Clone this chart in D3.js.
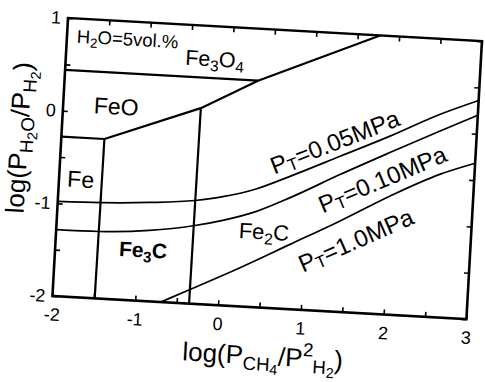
<!DOCTYPE html>
<meta charset="utf-8">
<head>
    <style>
        body { margin: 0; background: #fff; }
        text { font-family: "Liberation Sans", Arial, Helvetica, sans-serif; fill: #000; }
    </style>
    <script src="https://d3js.org/d3.v7.min.js"></script>
</head>
<div id="my_dataviz"></div>

<script>

// axis ranges and ticks (log units)
var xDomain = [-2, 3],
    yDomain = [-2, 1];
var xTicks = [-2, -1.5, -1, -0.5, 0, 0.5, 1, 1.5, 2, 2.5, 3];
var yTicks = [-2, -1.5, -1, -0.5, 0, 0.5, 1];

// phase boundaries [log(PCH4/PH2^2), log(PH2O/PH2)]
var magnetiteWustite = [[-2, 0.44], [0.33, 0.44]];
var oxideCarbide = [[-2, -0.28], [-1.48, -0.28], [-0.34, 0.11], [0.33, 0.44], [1.77, 1.0]];
var ironCementite = [[-1.48, -0.28], [-1.49, -2]];
var cementiteFe2C = [[-0.34, 0.11], [-0.35, -2]];

// equilibrium curves, H2O = 5 vol.%
var pt005 = [[-2, -0.98], [-1.48, -0.967], [-0.9, -0.936], [-0.35, -0.887], [0, -0.826], [0.38, -0.726],
             [0.78, -0.57], [1.37, -0.324], [1.95, -0.08], [2.54, 0.186], [3, 0.36]];
var pt010 = [[-2, -1.285], [-1.48, -1.278], [-0.88, -1.237], [-0.35, -1.16], [0, -1.084], [0.4, -0.967],
             [0.79, -0.802], [1.38, -0.521], [1.96, -0.257], [2.55, 0.006], [3, 0.2]];
var pt100 = [[-0.69, -2], [-0.355, -1.85], [0.233, -1.586], [0.82, -1.305], [1.407, -1.023],
             [1.993, -0.724], [2.581, -0.459], [3, -0.318]];

// region labels: [x, y] anchor (baseline-left) in data units
var phaseLabels = [
    {pos: [-1.88, 0.74], parts: [["H"], ["2", "sub"], ["O=5vol.%"]], size: 18.5},
    {pos: [-0.56, 0.567], parts: [["Fe"], ["3", "sub"], ["O"], ["4", "sub"]], size: 21.5},
    {pos: [-1.63, -0.01], parts: [["FeO"]], size: 23},
    {pos: [-1.9, -0.815], parts: [["Fe"]], size: 23},
    {pos: [-1.23, -1.53], parts: [["Fe"], ["3", "sub"], ["C"]], size: 21, bold: true},
    {pos: [0.2, -1.264], parts: [["Fe"], ["2", "sub"], ["C"]], size: 22}
];
var pressureLabels = [
    {pos: [0.59, -0.56], value: "0.05", angle: -24.5},
    {pos: [1.2, -0.95], value: "0.10", angle: -26},
    {pos: [1.0, -1.60], value: "1.0", angle: -27}
];

// set the dimensions and margins of the graph
var margin = {top: 18, left: 68},
    width = 414.6,
    height = 278.4,
    tilt = 3.2;   // the scanned figure sits slightly rotated

var x = d3.scaleLinear().domain(xDomain).range([0, width]),
    y = d3.scaleLinear().domain(yDomain).range([height, 0]);

var svg = d3.select("#my_dataviz")
  .append("svg")
    .attr("width", 485)
    .attr("height", 382)
  .append("g")
    .attr("transform", "rotate(" + tilt + "," + margin.left + "," + margin.top + ") translate(" + margin.left + "," + margin.top + ")");

svg.append("clipPath").attr("id", "plotclip")
  .append("rect").attr("width", width).attr("height", height);

function richText(g, px, py, parts, size) {
    var t = g.append("text").attr("x", px).attr("y", py).style("font-size", size + "px");
    var cur = 0;
    var scale = {n: 1, sub: 0.72, sup: 0.72, subsub: 0.55};
    var shift = {n: 0, sub: 0.22, sup: -0.42, subsub: 0.36};
    parts.forEach(function(p) {
        var s = p[1] || "n";
        var off = shift[s] * size;
        t.append("tspan")
          .attr("dy", off - cur)
          .style("font-size", (scale[s] * size) + "px")
          .text(p[0]);
        cur = off;
    });
    return t;
}

// axes, ticks pointing inward on all four sides
var fmt = function(d) { return Number.isInteger(d) ? String(d) : ""; };

svg.append("g")
    .attr("transform", "translate(0," + height + ")")
    .call(d3.axisBottom(x).tickValues(xTicks).tickSize(-5).tickPadding(12).tickFormat(fmt));
svg.append("g")
    .call(d3.axisLeft(y).tickValues(yTicks).tickSize(-5).tickPadding(7).tickFormat(fmt));
svg.append("g")
    .call(d3.axisTop(x).tickValues(xTicks).tickSize(-5).tickFormat(""));
svg.append("g")
    .attr("transform", "translate(" + width + ",0)")
    .call(d3.axisRight(y).tickValues(yTicks).tickSize(-5).tickFormat(""));

svg.selectAll(".domain").remove();
svg.selectAll(".tick line").attr("stroke", "#000").attr("stroke-width", 1.6);
svg.selectAll(".tick text")
    .style("font-size", "18px")
    .style("font-family", "'Liberation Sans', Arial, sans-serif")
    .attr("fill", "#000");

// frame
svg.append("rect")
    .attr("width", width)
    .attr("height", height)
    .attr("fill", "none")
    .attr("stroke", "#000")
    .attr("stroke-width", 2.6);

var plot = svg.append("g").attr("clip-path", "url(#plotclip)");

var line = d3.line()
    .x(function(d) { return x(d[0]); })
    .y(function(d) { return y(d[1]); });
var smooth = d3.line()
    .x(function(d) { return x(d[0]); })
    .y(function(d) { return y(d[1]); })
    .curve(d3.curveMonotoneX);

[magnetiteWustite, oxideCarbide, ironCementite, cementiteFe2C].forEach(function(b) {
    plot.append("path")
        .datum(b)
        .attr("fill", "none")
        .attr("stroke", "#000")
        .attr("stroke-width", 2.2)
        .attr("stroke-linejoin", "round")
        .attr("d", line);
});

[pt005, pt010, pt100].forEach(function(c) {
    plot.append("path")
        .datum(c)
        .attr("fill", "none")
        .attr("stroke", "#000")
        .attr("stroke-width", 1.7)
        .attr("d", smooth);
});

// region labels
phaseLabels.forEach(function(l) {
    var t = richText(svg, x(l.pos[0]), y(l.pos[1]), l.parts, l.size);
    if (l.bold) t.style("font-weight", "bold");
});

// total pressure labels along the curves
pressureLabels.forEach(function(l) {
    var g = svg.append("g")
        .attr("transform", "translate(" + x(l.pos[0]) + "," + y(l.pos[1]) + ") rotate(" + l.angle + ")");
    g.append("text")
        .style("font-size", "24px")
        .call(function(t) {
            t.append("tspan").text("P");
            t.append("tspan").attr("dy", 3).style("font-size", "17px").text("T");
            t.append("tspan").attr("dy", -3).text("=" + l.value + "MPa");
        });
});

// axis titles
var yTitle = svg.append("g").attr("transform", "translate(-33.5," + (height / 2 - 17) + ") rotate(-90)");
richText(yTitle, 0, 0, [["log(P"], ["H", "sub"], ["2", "subsub"], ["O", "sub"], ["/P"], ["H", "sub"], ["2", "subsub"], [")"]], 26)
    .attr("text-anchor", "middle");

richText(svg, width / 2 + 6, height + 57, [["log(P"], ["CH", "sub"], ["4", "subsub"], ["/P"], ["2", "sup"], ["H", "sub"], ["2", "subsub"], [")"]], 26)
    .attr("text-anchor", "middle");

</script>
